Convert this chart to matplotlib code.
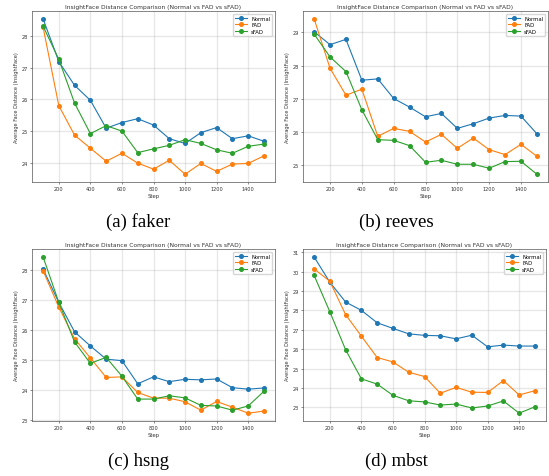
import matplotlib
matplotlib.use("Agg")
import matplotlib.pyplot as plt
from matplotlib.ticker import MultipleLocator

steps = [100, 200, 300, 400, 500, 600, 700, 800, 900, 1000, 1100, 1200, 1300, 1400, 1500]

# (a) faker
faker_normal = [28.54, 27.19, 26.44, 25.97, 25.09, 25.27, 25.39, 25.19, 24.76, 24.61, 24.95, 25.11, 24.76, 24.85, 24.68]
faker_fad = [28.28, 25.80, 24.87, 24.46, 24.05, 24.30, 23.99, 23.80, 24.08, 23.64, 23.98, 23.73, 23.96, 23.98, 24.22]
faker_sfad = [28.31, 27.26, 25.88, 24.92, 25.17, 25.00, 24.32, 24.44, 24.55, 24.73, 24.61, 24.41, 24.30, 24.52, 24.59]

# (b) reeves
reeves_normal = [29.02, 28.63, 28.79, 27.56, 27.60, 27.01, 26.75, 26.46, 26.56, 26.11, 26.25, 26.42, 26.50, 26.48, 25.95]
reeves_fad = [29.41, 27.92, 27.11, 27.29, 25.87, 26.11, 26.02, 25.70, 25.93, 25.51, 25.82, 25.47, 25.32, 25.63, 25.27]
reeves_sfad = [28.95, 28.26, 27.82, 26.67, 25.77, 25.75, 25.59, 25.09, 25.15, 25.03, 25.03, 24.91, 25.11, 25.12, 24.73]

# (c) hsng
hsng_normal = [28.03, 26.92, 25.94, 25.47, 25.03, 24.98, 24.21, 24.44, 24.28, 24.36, 24.34, 24.37, 24.08, 24.03, 24.07]
hsng_fad = [27.98, 26.76, 25.71, 25.07, 24.42, 24.44, 23.92, 23.73, 23.73, 23.61, 23.33, 23.62, 23.43, 23.23, 23.30]
hsng_sfad = [28.44, 26.92, 25.60, 24.89, 25.09, 24.46, 23.70, 23.70, 23.81, 23.74, 23.49, 23.47, 23.33, 23.47, 23.96]

# (d) mbst
mbst_normal = [30.76, 29.45, 28.43, 28.00, 27.36, 27.07, 26.79, 26.71, 26.69, 26.53, 26.72, 26.12, 26.21, 26.16, 26.16]
mbst_fad = [30.14, 29.50, 27.78, 26.67, 25.57, 25.34, 24.81, 24.59, 23.73, 24.03, 23.78, 23.77, 24.38, 23.64, 23.86]
mbst_sfad = [29.81, 27.93, 25.97, 24.47, 24.20, 23.62, 23.34, 23.28, 23.12, 23.17, 22.97, 23.07, 23.33, 22.70, 23.03]

captions = ["(a) faker", "(b) reeves", "(c) hsng", "(d) mbst"]
series_names = ["Normal", "FAD", "sFAD"]
panels = [
    (faker_normal, faker_fad, faker_sfad),
    (reeves_normal, reeves_fad, reeves_sfad),
    (hsng_normal, hsng_fad, hsng_sfad),
    (mbst_normal, mbst_fad, mbst_sfad),
]

W, H = 549, 477
fig = plt.figure(figsize=(W / 100, H / 100), dpi=100)

# axes boxes in pixels: left, top, right, bottom
boxes = [(32, 12, 275, 183), (303, 12, 548, 183),
         (32, 250, 275, 422), (303, 250, 546, 422)]
caption_pos = [(138, 222), (396, 222), (138, 461), (396, 461)]
colors = ["#1f77b4", "#ff7f0e", "#2ca02c"]

for i, (vals, box) in enumerate(zip(panels, boxes)):
    l, t, r, b = box
    ax = fig.add_axes([l / W, 1 - b / H, (r - l) / W, (b - t) / H])
    for name, v, c in zip(series_names, vals, colors):
        ax.plot(steps, v, marker="o", markersize=2.6, linewidth=0.8, color=c, label=name)
    ax.set_title("InsightFace Distance Comparison (Normal vs FAD vs sFAD)", fontsize=4.3, pad=2.5, color="#333333")
    ax.set_xlabel("Step", fontsize=3.8, labelpad=1.5, color="#333333")
    ax.set_ylabel("Average Face Distance (InsightFace)", fontsize=3.6, labelpad=2, color="#333333")
    ax.set_xticks([200, 400, 600, 800, 1000, 1200, 1400])
    ax.yaxis.set_major_locator(MultipleLocator(1))
    ax.tick_params(labelsize=3.6, length=1.5, width=0.4, pad=1.5, colors="#333333")
    ax.grid(True, alpha=0.3, linewidth=0.9)
    for s in ax.spines.values():
        s.set_linewidth(0.5)
        s.set_color("#555555")
    ax.legend(fontsize=3.8, loc="upper right", handlelength=2.2, borderpad=0.4, labelspacing=0.3)
    cx, cy = caption_pos[i]
    fig.text(cx / W, 1 - cy / H, captions[i], ha="center", va="center",
             fontsize=13.5, family="Liberation Serif")

fig.savefig("out.png", dpi=100)
